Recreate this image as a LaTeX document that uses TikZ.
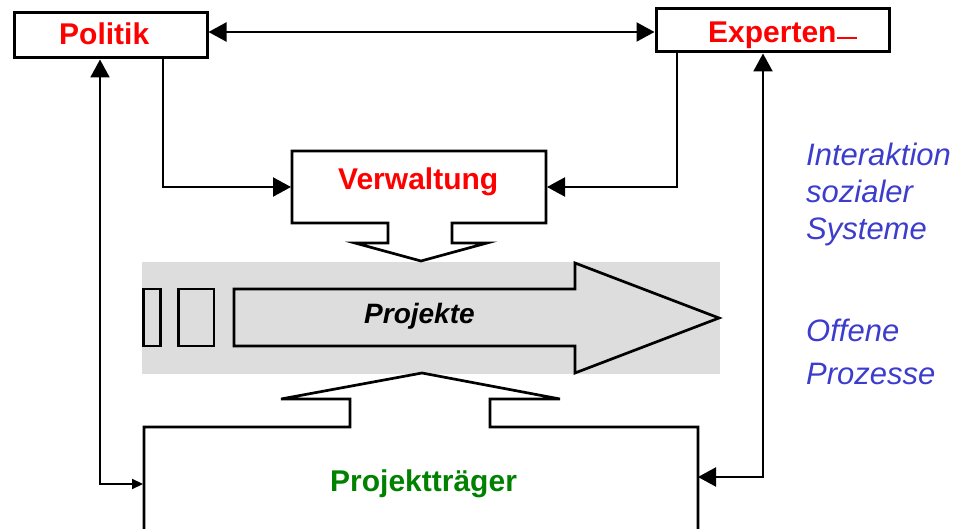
\documentclass[tikz,border=0pt]{standalone}
\usepackage{fontspec}
\setmainfont{Liberation Sans}
\usepackage{xcolor}
\usetikzlibrary{arrows.meta}
\definecolor{polred}{RGB}{255,0,0}
\definecolor{ptgreen}{RGB}{0,130,0}
\definecolor{sysblue}{RGB}{60,60,205}
\definecolor{bandgray}{RGB}{221,221,221}

\begin{document}
\begin{tikzpicture}[x=1pt, y=-1pt,
    box/.style={draw, line width=3pt, inner sep=0pt},
    region/.style={inner sep=0pt, outer sep=0pt},
    shapeline/.style={line width=2.7pt, line join=miter},
    conn/.style={line width=2.2pt},
    bigtip/.tip={Triangle[length=18pt,width=19pt]},
    smalltip/.tip={Triangle[length=11pt,width=10pt]},
    lbl/.style={font=\fontsize{30}{36}\selectfont\bfseries, inner sep=0pt, anchor=base west},
    sys/.style={font=\fontsize{31}{36}\selectfont\itshape, text=sysblue, inner sep=0pt, anchor=base west}]
  \useasboundingbox (0,0) rectangle (954,529);
%Band
  \fill[bandgray] (142,262) rectangle (720,374);
  \draw[shapeline] (143.5,289) rectangle (160.5,346);
  \draw[shapeline] (178.5,289) rectangle (214,346);
  \draw[shapeline] (234,289) -- (575,289) -- (575,263) -- (719,318)
    -- (575,373) -- (575,346) -- (234,346) -- cycle;
  \node[lbl, font=\fontsize{28}{32}\selectfont\bfseries\itshape] (projekte) at (364,324) {Projekte};
%Boxes
  \node[box, minimum width=193pt, minimum height=45pt] (politik) at (110.5,35.5) {};
  \node[box, minimum width=233pt, minimum height=43pt] (experten) at (772.5,30.5) {};
  \node[region, minimum width=256pt, minimum height=74pt] (verwaltung) at (419,187) {};
  \node[region, minimum width=555pt, minimum height=101pt] (traeger) at (420.5,477.5) {};
  \draw[shapeline] (292,151) -- (546,151) -- (546,223) -- (452,223) -- (452,243)
    -- (487,243) -- (421,261) -- (355,243) -- (388,243) -- (388,223) -- (292,223) -- cycle;
  \draw[shapeline] (144,530) -- (144,427) -- (350,427) -- (350,399) -- (281,399)
    -- (422,373) -- (560,399) -- (490,399) -- (490,427) -- (698,427) -- (698,530);
  \node[lbl, text=polred] (politiktext) at (59,45) {Politik};
  \node[lbl, text=polred] (expertentext) at (708,43) {Experten\rule[4pt]{20pt}{2pt}};
  \node[lbl, text=polred] (verwtext) at (338,190) {Verwaltung};
  \node[lbl, text=ptgreen] (traegertext) at (330,491) {Projektträger};
%Connectors
  \coordinate (topline) at (0,32);
  \coordinate (pbend) at (163,187);
  \coordinate (ebend) at (677,187);
  \coordinate (lbend) at (100,484);
  \coordinate (rbend) at (763,477);
  \draw[conn, bigtip-bigtip] (politik.east |- topline) -- (experten.west |- topline);
  \draw[conn, -bigtip] (politik.south -| pbend) -- (pbend) -- (verwaltung.west);
  \draw[conn, -bigtip] (experten.south -| ebend) -- (ebend) -- (verwaltung.east);
  \draw[conn, bigtip-smalltip] (politik.south -| lbend) -- (lbend) -- (traeger.west |- lbend);
  \draw[conn, bigtip-bigtip] (experten.south -| rbend) -- (rbend) -- (traeger.east |- rbend);
%Text
  \node[sys] (int1) at (806,166) {Interaktion};
  \node[sys] (int2) at (806,203) {sozialer};
  \node[sys] (int3) at (806,240) {Systeme};
  \node[sys] (off1) at (806,342) {Offene};
  \node[sys] (off2) at (806,385) {Prozesse};
\end{tikzpicture}
\end{document}
